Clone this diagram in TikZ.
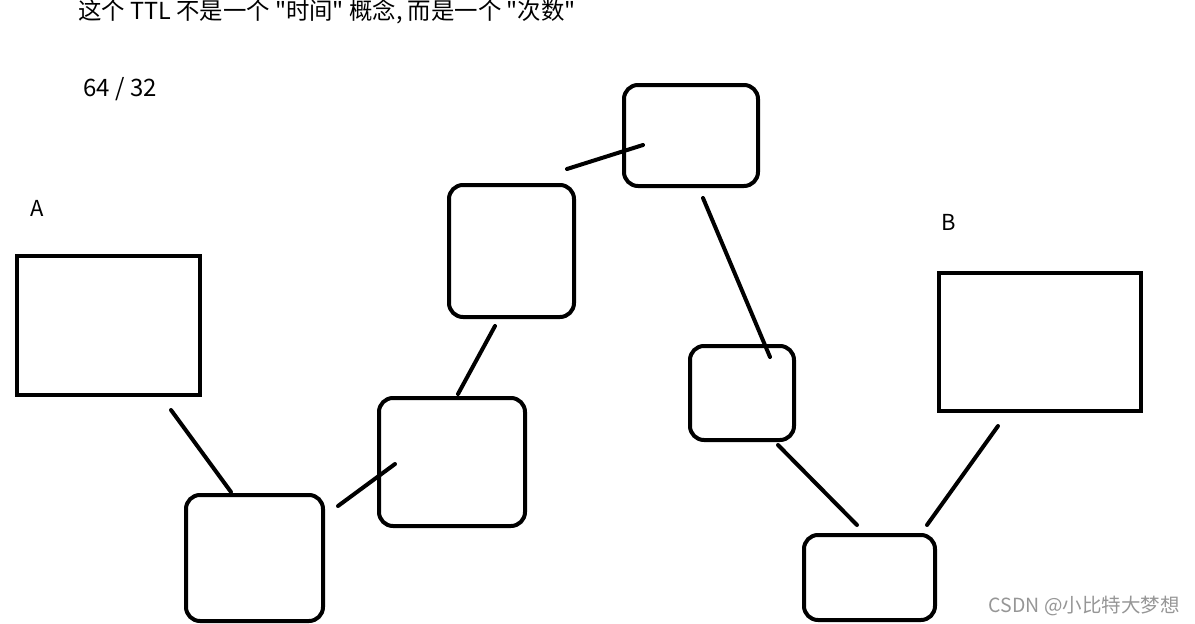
\documentclass[tikz,border=0pt]{standalone}
\usepackage{fontspec}
\newfontfamily\cjk{Noto Sans CJK SC}
\usetikzlibrary{positioning}
\definecolor{markgray}{RGB}{150,150,150}

\tikzset{
  hop/.style={draw, line width=4pt, rounded corners=14pt, inner sep=0pt},
  host/.style={draw, line width=4pt, inner sep=0pt},
  link/.style={line width=4pt, line cap=round},
  lbl/.style={font=\cjk\fontsize{22}{26}\selectfont, inner sep=0pt}
}

\begin{document}
\begin{tikzpicture}[x=1pt, y=-1pt]
  \useasboundingbox (0,0) rectangle (1195,624);
  \clip (0,0) rectangle (1195,624);
  % notas
  \node[lbl, anchor=base west, font=\cjk\fontsize{23.4}{27}\selectfont] (note) at (78,19) {这个 TTL 不是一个 "时间" 概念, 而是一个 "次数"};
  \node[lbl, anchor=base west, font=\cjk\fontsize{24}{28}\selectfont] (hops) at (83,96) {64 / 32};
  \node[lbl, anchor=base west] (nameA) at (30,216) {A};
  \node[lbl, anchor=base west] (nameB) at (941,230) {B};
  % hosts
  \node[host, minimum width=183, minimum height=139] (hostA) at (108.5,325.5) {};
  \node[host, minimum width=202, minimum height=138] (hostB) at (1040,342) {};
  % routers
  \node[hop, minimum width=137, minimum height=126] (r1) at (254.5,558) {};
  \node[hop, minimum width=146, minimum height=128] (r2) at (452,462) {};
  \node[hop, minimum width=125, minimum height=132] (r3) at (511.5,251) {};
  \node[hop, minimum width=134, minimum height=101] (r4) at (691,135.5) {};
  \node[hop, minimum width=104, minimum height=94] (r5) at (742,393) {};
  \node[hop, minimum width=131, minimum height=85] (r6) at (869.5,577.5) {};
  % extremos de los enlaces
  \coordinate (a1) at (171,410); \coordinate (a2) at (231,492);
  \coordinate (b1) at (338,506); \coordinate (b2) at (395,464);
  \coordinate (c1) at (458,394); \coordinate (c2) at (495,326);
  \coordinate (d1) at (567,169); \coordinate (d2) at (643,145);
  \coordinate (e1) at (703,198); \coordinate (e2) at (770,357);
  \coordinate (f1) at (778,445); \coordinate (f2) at (857,525);
  \coordinate (g1) at (927,525); \coordinate (g2) at (998,426);
  \draw[link] (a1) -- (a2);
  \draw[link] (b1) -- (b2);
  \draw[link] (c1) -- (c2);
  \draw[link] (d1) -- (d2);
  \draw[link] (e1) -- (e2);
  \draw[link] (f1) -- (f2);
  \draw[link] (g1) -- (g2);
  % marca
  \node[font=\cjk\fontsize{19.5}{22}\selectfont, text=markgray, anchor=base east, inner sep=0pt] (mark) at (1180,612) {CSDN @小比特大梦想};
\end{tikzpicture}
\end{document}
